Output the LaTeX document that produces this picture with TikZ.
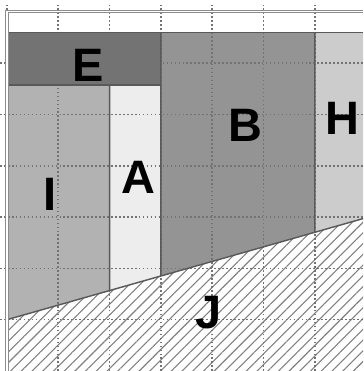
\documentclass[tikz,border=0pt]{standalone}
\usepackage{fontspec}
\setmainfont{Liberation Sans}
\usetikzlibrary{patterns.meta,calc}

\begin{document}
\begin{tikzpicture}[
  edge/.style={draw=black!65, line width=0.8pt},
  griddots/.style={black!55, line width=0.9pt, dash pattern=on 0.9pt off 1.3pt},
  frame/.style={draw=black!45, line width=0.5pt, double=white, double distance=0.7pt},
  lbl/.style={font=\fontsize{26}{26}\selectfont\bfseries, inner sep=0pt}]
  \useasboundingbox (-0.136,0) rectangle (6.94,7.23);
  % the sloped boundary of J
  \coordinate (sl) at (0,1);
  \coordinate (sr) at (6.94,2.97);
  \coordinate (s2) at ($(sl)!{2/6.94}!(sr)$);
  \coordinate (s3) at ($(sl)!{3/6.94}!(sr)$);
  \coordinate (s6) at ($(sl)!{6/6.94}!(sr)$);
  % regions
  \fill[black!55] (0,5.57) rectangle (3,6.59);
  \fill[black!30] (sl) -- (0,5.57) -- (2,5.57) -- (s2) -- cycle;
  \fill[black!7] (s2) -- (2,5.57) -- (3,5.57) -- (s3) -- cycle;
  \fill[black!42] (s3) -- (3,6.59) -- (6,6.59) -- (s6) -- cycle;
  \fill[black!20] (s6) -- (6,6.59) -- (6.94,6.59) -- (sr) -- cycle;
  \fill[pattern={Lines[angle=45, distance=4.2pt, line width=0.6pt]}, pattern color=black!50]
    (0,0) -- (sl) -- (sr) -- (6.94,0) -- cycle;
  % grid
  \foreach \u in {0,...,6}
    \draw[griddots] (\u,0) -- (\u,7.13);
  \foreach \v in {1,...,6}
    \draw[griddots] (-0.136,\v) -- (6.94,\v);
  % borders
  \draw[edge, line width=0.5pt] (0,6.59) -- (6.94,6.59);
  \draw[edge] (0,5.57) -- (3,5.57);
  \draw[edge] (2,5.57) -- (s2);
  \draw[edge] (3,6.59) -- (s3);
  \draw[edge] (6,6.59) -- (s6);
  \draw[edge] (sl) -- (sr);
  \draw[frame] (0,0) -- (0,7) -- (6.94,7);
  % labels
  \node[lbl] (E) at (1.58,5.95) {E};
  \node[lbl] (B) at (4.64,4.78) {B};
  \node[lbl] (H) at (6.53,4.93) {H};
  \node[lbl] (I) at (0.84,3.44) {I};
  \node[lbl] (A) at (2.56,3.77) {A};
  \node[lbl] (J) at (3.92,1.13) {J};
\end{tikzpicture}
\end{document}
